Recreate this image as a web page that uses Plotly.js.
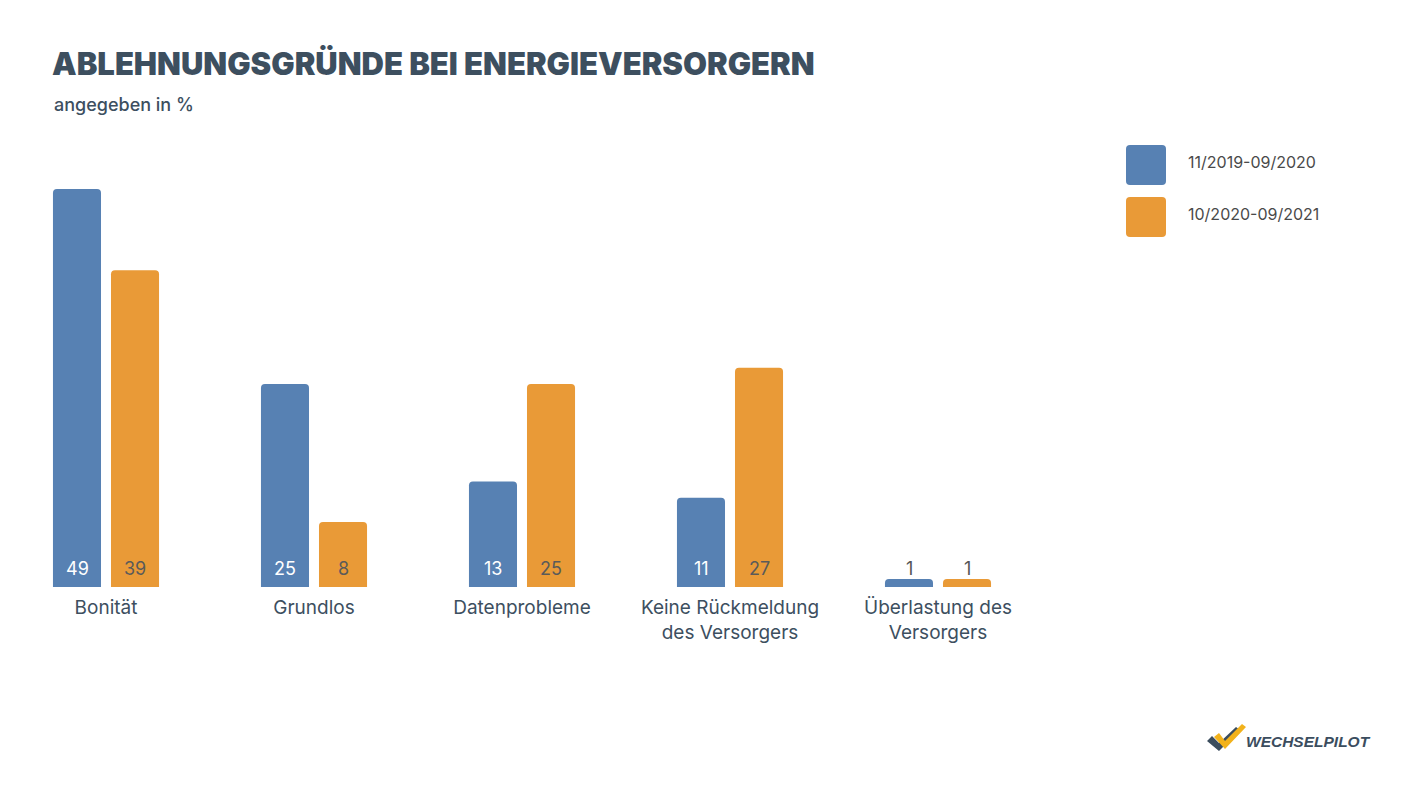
<!DOCTYPE html>
<html>
<head>
<meta charset="utf-8">
<script src="https://cdn.plot.ly/plotly-3.0.1.min.js"></script>
<style>
  html, body { margin: 0; padding: 0; background: #ffffff; }
  #chart { width: 1423px; height: 800px; }
</style>
</head>
<body>
<div id="chart"></div>
<script>
// Rejection reasons reported by energy suppliers, in percent
const categories = [
  "Bonität",
  "Grundlos",
  "Datenprobleme",
  "Keine Rückmeldung<br>des Versorgers",
  "Überlastung des<br>Versorgers"
];
const seriesNames = ["11/2019-09/2020", "10/2020-09/2021"];
const period1 = [49, 25, 13, 11, 1];
const period2 = [39, 8, 25, 27, 1];

const W = 1423, H = 800;
const px = x => x / W;
const py = y => 1 - y / H;

const BLUE = "#5781b3";
const ORANGE = "#e99a37";
const DARK = "#3d4f5f";
const FONT = "Inter, 'Open Sans', sans-serif";

function barTrace(name, values, color) {
  return {
    type: "bar",
    name: name,
    x: categories,
    y: values,
    marker: { color: color, cornerradius: 4, line: { width: 0 } },
    hoverinfo: "x+y+name"
  };
}

const series = [
  { name: seriesNames[0], values: period1, color: BLUE, inside: "#ffffff", shift: -29 },
  { name: seriesNames[1], values: period2, color: ORANGE, inside: "#5a5a5a", shift: 29 }
];

const data = series.map(s => barTrace(s.name, s.values, s.color));

const shapes = [];
const annotations = [];

// value labels sit near the foot of each bar; tiny bars get them just above
series.forEach(s => {
  s.values.forEach((v, i) => {
    annotations.push({
      text: String(v), xref: "x", yref: "y",
      x: categories[i], y: 0, xshift: s.shift, yshift: 19,
      xanchor: "center", yanchor: "middle", showarrow: false,
      font: { family: FONT, size: 18, color: v > 2 ? s.inside : "#555555" }
    });
  });
});

// rounded square in pixel space, converted to paper coordinates
function roundRect(x0, y0, x1, y1, r) {
  const P = (x, y) => px(x) + "," + py(y);
  return "M " + P(x0 + r, y0) + " L " + P(x1 - r, y0) +
    " Q " + P(x1, y0) + " " + P(x1, y0 + r) +
    " L " + P(x1, y1 - r) + " Q " + P(x1, y1) + " " + P(x1 - r, y1) +
    " L " + P(x0 + r, y1) + " Q " + P(x0, y1) + " " + P(x0, y1 - r) +
    " L " + P(x0, y0 + r) + " Q " + P(x0, y0) + " " + P(x0 + r, y0) + " Z";
}

// legend swatches and labels drawn on the right
const legendTop = [145, 197];
series.forEach((s, i) => {
  shapes.push({
    type: "path", xref: "paper", yref: "paper",
    path: roundRect(1126, legendTop[i], 1166, legendTop[i] + 40, 4),
    fillcolor: s.color, line: { width: 0 }, layer: "above"
  });
  annotations.push({
    text: s.name, xref: "paper", yref: "paper",
    x: px(1186), y: py(legendTop[i] + 17), xanchor: "left", yanchor: "middle",
    showarrow: false, font: { family: FONT, size: 16, color: "#4a4a4a" }
  });
});

// subtitle
annotations.push({
  text: "angegeben in %", xref: "paper", yref: "paper",
  x: px(52), y: py(104), xanchor: "left", yanchor: "middle",
  showarrow: false, font: { family: FONT, size: 18, color: DARK, weight: 500 }
});

// brand mark: two overlapping check marks and the word mark
function poly(pts) {
  return "M " + pts.map(p => px(p[0]) + "," + py(p[1])).join(" L ") + " Z";
}
shapes.push({
  type: "path", xref: "paper", yref: "paper",
  path: poly([[1207, 741], [1212, 736], [1219, 743], [1236, 727], [1240, 730], [1219, 751]]),
  fillcolor: "#3b4d5e", line: { width: 0 }
});
shapes.push({
  type: "path", xref: "paper", yref: "paper",
  path: poly([[1214, 737], [1219, 733], [1225, 741], [1242, 724], [1246, 727], [1225, 749]]),
  fillcolor: "#f2b21b", line: { width: 0 }
});
annotations.push({
  text: "<b><i>WECHSELPILOT</i></b>", xref: "paper", yref: "paper",
  x: px(1244), y: py(741), xanchor: "left", yanchor: "middle",
  showarrow: false, font: { family: "'Liberation Sans', Arial, sans-serif", size: 15.5, color: "#3b4d5e" }
});

const layout = {
  width: W, height: H,
  margin: { l: 0, r: 0, t: 0, b: 0 },
  paper_bgcolor: "#ffffff",
  plot_bgcolor: "#ffffff",
  showlegend: false,
  title: {
    text: "ABLEHNUNGSGRÜNDE BEI ENERGIEVERSORGERN",
    xref: "paper", yref: "paper",
    x: px(52), xanchor: "left",
    y: py(64), yanchor: "middle",
    font: { family: FONT, size: 31, color: DARK, weight: 900 }
  },
  barmode: "group",
  bargap: 0.442,
  bargroupgap: 0.172,
  xaxis: {
    domain: [px(2), px(1042)],
    range: [-0.5, 4.5],
    type: "category",
    showgrid: false, zeroline: false, showline: false,
    ticks: "", ticklen: 0,
    ticklabelstandoff: 7,
    tickfont: { family: FONT, size: 19, color: DARK },
    fixedrange: true
  },
  yaxis: {
    domain: [py(587), py(181)],
    range: [0, 50],
    visible: false,
    showgrid: false, zeroline: false,
    fixedrange: true
  },
  shapes: shapes,
  annotations: annotations,
  font: { family: FONT, color: DARK },
  hovermode: "closest"
};

Plotly.newPlot("chart", data, layout, { displayModeBar: false, responsive: false });
</script>
</body>
</html>
